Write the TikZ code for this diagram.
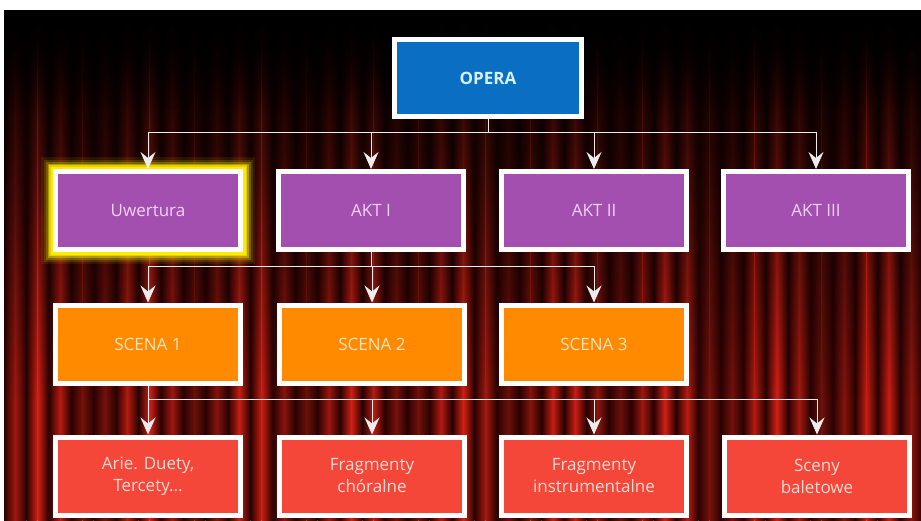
\documentclass[tikz,border=0pt]{standalone}
\usepackage{fontspec}
\setmainfont{Open Sans}
\usetikzlibrary{arrows.meta,fadings}
\definecolor{opblue}{HTML}{0A6FC2}
\definecolor{opbtext}{HTML}{D8F0FF}
\definecolor{akpurple}{HTML}{A24FB0}
\definecolor{aktext}{HTML}{F2D4F6}
\definecolor{scorange}{HTML}{FF8A00}
\definecolor{sctext}{HTML}{FFE2B8}
\definecolor{frred}{HTML}{F4473A}
\definecolor{frtext}{HTML}{FFDAD2}
\definecolor{curtdark}{HTML}{2A0202}
\definecolor{curtred}{HTML}{D42014}
\definecolor{glow}{HTML}{FFEE00}
\pgfdeclarelayer{bg}
\pgfsetlayers{bg,main}
\begin{document}
\begin{tikzpicture}[x=1pt,y=-1pt,
  box/.style={draw=white, line width=5pt, minimum width=185pt, minimum height=78pt,
    inner sep=2pt, align=center, font=\fontsize{17}{22}\selectfont},
  akbox/.style={box, fill=akpurple, text=aktext},
  scbox/.style={box, fill=scorange, text=sctext},
  frbox/.style={box, fill=frred, text=frtext},
  conn/.style={draw=white!85!gray, line width=0.8pt},
  arr/.style={conn, -{Stealth[length=17pt,width=15pt,inset=6pt]}}]
\useasboundingbox (0,0) rectangle (921,520);

% nodes
\node[box, fill=opblue, text=opbtext, font=\fontsize{17}{22}\selectfont\bfseries,
  minimum width=187pt, minimum height=77pt] (opera) at (488,78) {OPERA};

\node[akbox] (uw)   at (148,210.5) {Uwertura};
\node[akbox] (akt1) at (371,210.5) {AKT I};
\node[akbox] (akt2) at (594,210.5) {AKT II};
\node[akbox] (akt3) at (816,210.5) {AKT III};

\node[scbox] (sc1) at (148,344) {SCENA 1};
\node[scbox] (sc2) at (372,344) {SCENA 2};
\node[scbox] (sc3) at (594,344) {SCENA 3};

\node[frbox] (f1) at (148,476) {Arie. Duety,\\Tercety...};
\node[frbox] (f2) at (372,476) {Fragmenty\\chóralne};
\node[frbox] (f3) at (594,476) {Fragmenty\\instrumentalne};
\node[frbox] (f4) at (817,476) {Sceny\\baletowe};

% background
\begin{pgfonlayer}{bg}
  \fill[white] (0,0) rectangle (921,520);
  \fill[black] (4,10) rectangle (921,520);
  \foreach \i in {0,...,40} {
    \pgfmathsetmacro\xa{4+\i*22.4}
    \pgfmathtruncatemacro\b{75+25*sin(\i*77)}
    \shade[left color=curtdark, right color=curtred!\b!black, path fading=north]
      (\xa,10) rectangle (\xa+11.2,400);
    \shade[left color=curtred!\b!black, right color=curtdark, path fading=north]
      (\xa+11.2,10) rectangle (\xa+22.4,400);
    \shade[left color=curtdark, right color=curtred!\b!black]
      (\xa,399.5) rectangle (\xa+11.2,520);
    \shade[left color=curtred!\b!black, right color=curtdark]
      (\xa+11.2,399.5) rectangle (\xa+22.4,520);
  }
  \fill[black, path fading=south, opacity=0.85] (4,10) rectangle (921,110);
  % glow around Uwertura
  \foreach \w/\o in {24/0.08, 19/0.14, 15/0.24, 11/0.4, 8/0.65, 5/0.95}
    \draw[glow, line width=\w pt, opacity=\o] (uw.south west) rectangle (uw.north east);
\end{pgfonlayer}

% connectors
\coordinate (b1) at (488,132);
\coordinate (b2) at (371,266);
\coordinate (b3) at (148,399);
\draw[conn] (opera.south) -- (b1);
\draw[conn] (b1 -| uw) -- (b1 -| akt3);
\foreach \n in {uw,akt1,akt2,akt3}
  \draw[arr] (b1 -| \n) -- (\n.north);

\draw[conn] (akt1.south) -- (b2);
\draw[conn] (b2 -| sc1) -- (b2 -| sc3);
\foreach \n in {sc1,sc2,sc3}
  \draw[arr] (b2 -| \n) -- (\n.north);

\draw[conn] (sc1.south) -- (b3);
\draw[conn] (b3 -| f1) -- (b3 -| f4);
\foreach \n in {f1,f2,f3,f4}
  \draw[arr] (b3 -| \n) -- (\n.north);
\end{tikzpicture}
\end{document}
